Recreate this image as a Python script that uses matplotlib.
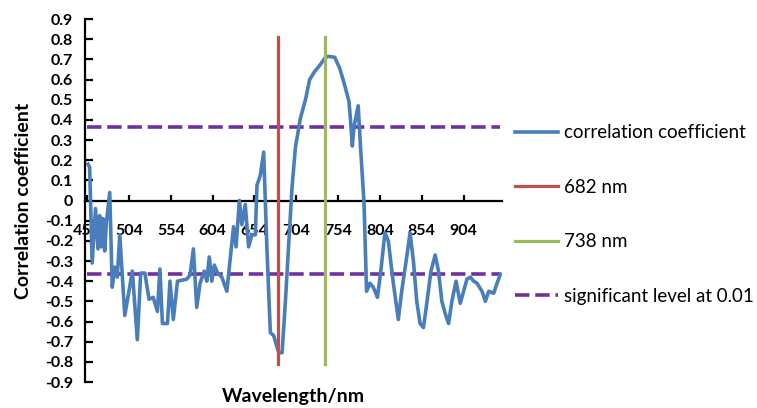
import numpy as np
import matplotlib
matplotlib.use("agg")
import matplotlib.pyplot as plt

plt.rcParams['font.family'] = ['Lato', 'DejaVu Sans']

# wavelength (nm) and correlation coefficient
wavelength = [455, 457, 460, 464, 467, 469, 471, 473, 475, 477, 481, 484, 487, 490,
              493, 499, 504, 508, 514, 518, 523, 528, 533, 538, 541, 544, 550, 553,
              557, 562, 573, 577, 581, 585, 589, 594, 597, 600, 603, 606, 610, 615,
              621, 629, 632, 636, 639, 643, 647, 651, 655, 657, 661, 665, 669, 673,
              677, 683, 687, 691, 695, 699, 703, 709, 715, 720, 726, 732, 738, 742,
              750, 756, 762, 767, 769, 771, 773, 778, 781, 785, 788, 792, 796, 801,
              805, 810, 814, 820, 826, 830, 836, 840, 844, 848, 852, 856, 860, 865,
              870, 874, 878, 882, 886, 890, 895, 900, 904, 908, 912, 916, 920, 926,
              930, 934, 940, 944, 948]
corr = [0.18, 0.165, -0.31, -0.04, -0.24, -0.075, -0.23, -0.09, -0.25, -0.11, 0.04,
        -0.43, -0.33, -0.38, -0.17, -0.57, -0.45, -0.35, -0.69, -0.36, -0.36, -0.49,
        -0.48, -0.55, -0.34, -0.61, -0.61, -0.40, -0.59, -0.40, -0.39, -0.37, -0.24,
        -0.53, -0.41, -0.35, -0.40, -0.28, -0.40, -0.32, -0.36, -0.38, -0.45, -0.13,
        -0.23, 0.0, -0.12, -0.02, -0.23, -0.17, -0.17, 0.075, 0.125, 0.24, -0.25,
        -0.655, -0.67, -0.755, -0.755, -0.50, -0.21, 0.07, 0.265, 0.41, 0.50, 0.60,
        0.64, 0.67, 0.705, 0.715, 0.71, 0.655, 0.57, 0.49, 0.39, 0.27, 0.365, 0.47,
        0.25, -0.015, -0.45, -0.41, -0.43, -0.48, -0.35, -0.16, -0.20, -0.41, -0.59,
        -0.45, -0.28, -0.16, -0.30, -0.50, -0.61, -0.63, -0.51, -0.35, -0.27, -0.35,
        -0.50, -0.56, -0.61, -0.50, -0.40, -0.51, -0.45, -0.39, -0.38, -0.40, -0.41,
        -0.45, -0.50, -0.45, -0.46, -0.41, -0.365]

band_red = 682
band_nir = 738
band_top = 0.81
sig_level = 0.365
x_start, x_end = 454, 948

xtick_vals = [454, 504, 554, 604, 654, 704, 754, 804, 854, 904]
ytick_vals = [0.9, 0.8, 0.7, 0.6, 0.5, 0.4, 0.3, 0.2, 0.1, 0, -0.1, -0.2, -0.3,
              -0.4, -0.5, -0.6, -0.7, -0.8, -0.9]
ytick_labels = ['0.9', '0.8', '0.7', '0.6', '0.5', '0.4', '0.3', '0.2', '0.1', '0',
                '-0.1', '-0.2', '-0.3', '-0.4', '-0.5', '-0.6', '-0.7', '-0.8', '-0.9']

fig = plt.figure(figsize=(7.57, 4.08), dpi=100)
ax = fig.add_axes([0.1129, 0.0637, 0.5498, 0.8897])

dash = (0, (4.0, 1.6))
ax.plot([x_start, x_end], [sig_level, sig_level], color='#7030A0', lw=2.6,
        linestyle=dash, zorder=2)
sig_line, = ax.plot([x_start, x_end], [-sig_level, -sig_level], color='#7030A0',
                    lw=2.6, linestyle=dash, zorder=2, label='significant level at 0.01')
corr_line, = ax.plot(wavelength, corr, color='#4A7EBB', lw=2.6, zorder=3,
                     label='correlation coefficient')
red_line, = ax.plot([band_red, band_red], [-band_top, band_top], color='#C0504D',
                    lw=2.3, zorder=4, label='682 nm')
nir_line, = ax.plot([band_nir, band_nir], [-band_top, band_top], color='#9BBB59',
                    lw=2.3, zorder=4, label='738 nm')

ax.set_xlim(452, 949.5)
ax.set_ylim(-0.9, 0.9)
ax.set_axisbelow(True)

ax.spines['top'].set_visible(False)
ax.spines['right'].set_visible(False)
ax.spines['bottom'].set_position(('data', 0))
ax.spines['left'].set_linewidth(1.6)
ax.spines['bottom'].set_linewidth(1.6)

ax.set_xticks(xtick_vals)
ax.set_xticklabels([str(v) for v in xtick_vals])
ax.set_yticks(ytick_vals)
ax.set_yticklabels(ytick_labels)
ax.tick_params(axis='y', direction='in', length=6, width=1.6, pad=9, labelsize=11.5)
ax.tick_params(axis='x', direction='in', length=4.5, width=1.6, pad=17, labelsize=11.5)
for lbl in ax.get_xticklabels() + ax.get_yticklabels():
    lbl.set_fontweight('bold')

ax.set_ylabel('Correlation coefficient', fontsize=14, fontweight='bold')
ax.yaxis.set_label_coords(-0.129, 0.5)
ax.set_xlabel('Wavelength/nm', fontsize=14, fontweight='bold')
ax.xaxis.set_label_coords(0.5, -0.0165)

fig.legend(handles=[corr_line, red_line, nir_line, sig_line],
           loc='center left', bbox_to_anchor=(0.6803, 0.474), frameon=False,
           fontsize=13.5, handlelength=2.3, handletextpad=0.3, labelspacing=2.0,
           borderpad=0, borderaxespad=0)

plt.savefig('out.png', dpi=100)
